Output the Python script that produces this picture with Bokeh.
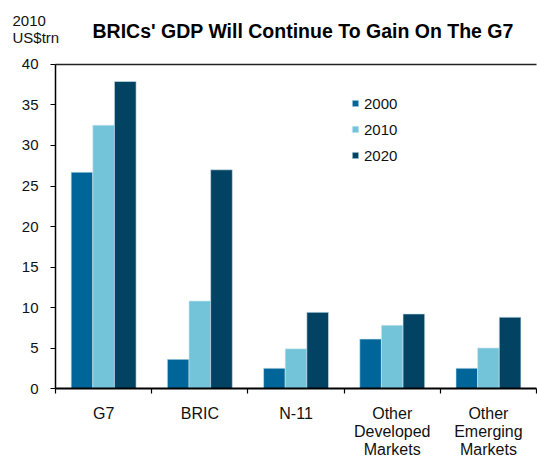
from bokeh.plotting import figure
from bokeh.models import (Range1d, FixedTicker, ColumnDataSource, Label, LinearAxis)
from bokeh.transform import dodge
from bokeh.embed import file_html
from bokeh.resources import INLINE

# ---- data ----
categories = ["G7", "BRIC", "N-11", "Other\nDeveloped\nMarkets", "Other\nEmerging\nMarkets"]
gdp_2000 = [26.7, 3.6, 2.5, 6.1, 2.5]
gdp_2010 = [32.5, 10.8, 4.9, 7.8, 5.0]
gdp_2020 = [37.9, 27.0, 9.4, 9.2, 8.8]
series_names = ["2000", "2010", "2020"]
y_ticks = [0, 5, 10, 15, 20, 25, 30, 35, 40]
title_text = "BRICs' GDP Will Continue To Gain On The G7"
unit_text = "2010\nUS$trn"

colors = ["#006699", "#73C4D9", "#024262"]
FONT = "Liberation Sans"
W, H = 537, 458

n = len(categories)
centers = [i + 0.5 for i in range(n)]
src = ColumnDataSource(dict(x=centers, y2000=gdp_2000, y2010=gdp_2010, y2020=gdp_2020))

# frame covers the whole canvas; axes are pinned inside it
p = figure(width=W, height=H, output_backend="svg", toolbar_location=None,
           x_range=Range1d(-0.572, 5.010), y_range=Range1d(-8.64, 47.90),
           min_border_left=0, min_border_right=0, min_border_top=0, min_border_bottom=0)
p.outline_line_color = None
p.background_fill_color = "white"
p.border_fill_color = "white"
p.xgrid.visible = False
p.ygrid.visible = False

bw = 0.225
for name, field, off, c in zip(series_names, ["y2000", "y2010", "y2020"], [-bw, 0, bw], colors):
    p.vbar(x=dodge("x", off, range=p.x_range), top=field, width=bw, source=src,
           fill_color=c, line_color="#cfe6ee", line_width=0.6, legend_label=name)

# y axis pinned at x=0
yax = p.yaxis[0]
yax.fixed_location = 0
yax.bounds = (0, max(y_ticks))
yax.ticker = FixedTicker(ticks=y_ticks)
yax.major_tick_out = 5
yax.major_tick_in = 0
yax.minor_tick_line_color = None
yax.axis_line_width = 1.5
yax.axis_line_color = "black"
yax.major_tick_line_color = "black"
yax.major_tick_line_width = 1.2
yax.major_label_standoff = 12
yax.major_label_text_font = FONT
yax.major_label_text_font_size = "15px"
yax.major_label_text_color = "#111111"

# x axis pinned at y=0: labels at centres, ticks at boundaries
xax = p.xaxis[0]
xax.fixed_location = 0
xax.bounds = (0, n)
xax.ticker = FixedTicker(ticks=centers, minor_ticks=list(range(n + 1)))
xax.major_label_overrides = {c: lab for c, lab in zip(centers, categories)}
xax.axis_line_width = 2.2
xax.axis_line_color = "black"
xax.major_tick_line_color = None
xax.major_tick_out = 0
xax.major_tick_in = 0
xax.minor_tick_out = 5
xax.minor_tick_in = 0
xax.minor_tick_line_color = "black"
xax.minor_tick_line_width = 1.2
xax.major_label_standoff = 11
xax.major_label_text_font = FONT
xax.major_label_text_font_size = "16px"
xax.major_label_text_color = "#111111"
xax.major_label_text_line_height = 1.06

# top frame line: an axis without ticks pinned at y=40
top = LinearAxis(fixed_location=max(y_ticks), bounds=(0, n),
                 ticker=FixedTicker(ticks=[]), major_label_text_font_size="0px",
                 axis_line_color="#222222", axis_line_width=1.5,
                 major_tick_line_color=None, minor_tick_line_color=None)
p.add_layout(top, "above")

# title and unit (screen units from canvas bottom-left)
p.add_layout(Label(x=92, y=H - 30, x_units="screen", y_units="screen", text=title_text,
                   text_font=FONT, text_font_style="bold", text_font_size="19.5px",
                   text_color="black", text_baseline="alphabetic"))
p.add_layout(Label(x=12, y=H - 11, x_units="screen", y_units="screen", text=unit_text,
                   text_font=FONT, text_font_size="15px", text_color="#111111",
                   text_baseline="top", text_line_height=1.0))

# legend
lg = p.legend[0]
lg.location = (351, H - 165)
lg.border_line_color = None
lg.background_fill_alpha = 0
lg.padding = 0
lg.margin = 0
lg.spacing = 6
lg.glyph_width = 8
lg.glyph_height = 8
lg.label_height = 20
lg.label_standoff = 5
lg.label_text_font = FONT
lg.label_text_font_size = "15px"
lg.label_text_color = "#111111"

open("out.html", "w").write(file_html(p, INLINE))
